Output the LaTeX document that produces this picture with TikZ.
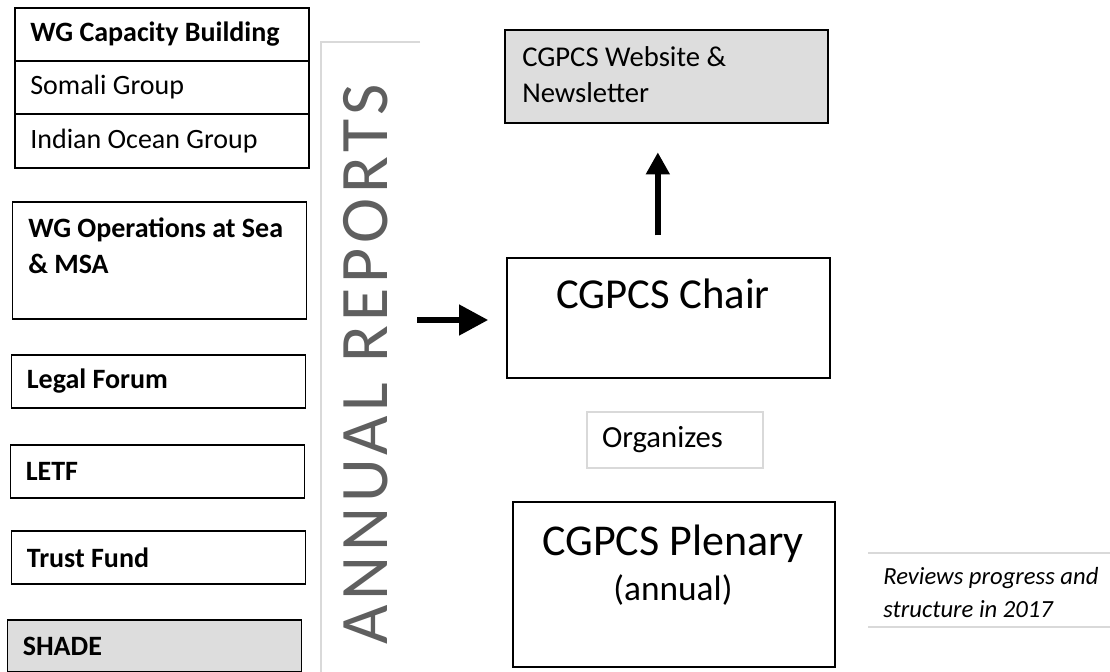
\documentclass[tikz,border=0pt]{standalone}
\usepackage{fontspec}
\setmainfont{Carlito}
\newfontfamily\reportsfont[LetterSpace=7]{Carlito}
\usetikzlibrary{arrows.meta,positioning}
\definecolor{framegray}{RGB}{217,217,217}
\definecolor{reportgray}{RGB}{95,95,95}
\definecolor{shadegray}{RGB}{221,221,221}
\tikzset{
  wgbox/.style={draw, line width=1.2pt, outer sep=0pt, minimum width=220.5pt, minimum height=39.75pt,
    inner xsep=11.5pt, text width=197.5pt, align=flush left, font=\fontsize{21}{26}\selectfont},
  mainbox/.style={draw, line width=1.6pt, outer sep=0pt},
  bigarrow/.style={line width=5pt, -{Triangle[length=22pt,width=22pt]}},
}
\begin{document}
\begin{tikzpicture}[x=0.75pt,y=0.75pt,yscale=-1,xscale=1]
\useasboundingbox (0,0) rectangle (1110,671);
\clip (0,0) rectangle (1110,671);

%Shape: Rectangle (working group table)
\node[wgbox] (capwg) at (162,34.5) {\bfseries WG Capacity Building};
\node[wgbox, below=0pt of capwg] (somali) {Somali Group};
\node[wgbox, below=0pt of somali, minimum height=40.5pt] (indian) {Indian Ocean Group};

%Shape: Rectangle
\node[wgbox, minimum height=87.75pt] (opsbox) at (159.5,260.5) {};
% Text Node
\node[anchor=north west, align=left, inner sep=0pt, font=\fontsize{21}{27}\selectfont\bfseries] (ops) at (28,218) {WG Operations at Sea\\\& MSA};

%Shape: Rectangle
\node[wgbox] (legal) at (158.5,381.5) {\bfseries Legal Forum};
\node[wgbox] (letf) at (157.5,471.5) {\bfseries LETF};
\node[wgbox] (trust) at (158.5,557.5) {\bfseries Trust Fund};
\node[wgbox, fill=shadegray, minimum height=39pt, inner xsep=11pt] (shade) at (154.5,646) {\bfseries SHADE};

%Straight Lines (report frame)
\draw[framegray, line width=1pt] (420,42) -- (321,42) -- (321,680);
% Text Node
\node[rotate=90, inner sep=0pt, text=reportgray, font=\reportsfont\fontsize{51}{61}\selectfont] (reports) at (366,364) {ANNUAL REPORTS};

%Shape: Rectangle
\node[mainbox, line width=1.2pt, fill=shadegray, minimum width=242.25pt, minimum height=69.75pt] (website) at (666.5,76.5) {};
% Text Node
\node[anchor=north west, align=left, inner sep=0pt, font=\fontsize{21.5}{27}\selectfont] (webtext) at (522,46) {CGPCS Website \&\\Newsletter};

%Shape: Rectangle
\node[mainbox, minimum width=242.25pt, minimum height=90pt] (chair) at (668.5,318) {};
% Text Node
\node[anchor=base, font=\fontsize{32}{38}\selectfont] (chairtext) at (663,308) {CGPCS Chair};

%Shape: Rectangle
\node[draw=framegray, line width=1pt, minimum width=132pt, minimum height=42pt, inner xsep=11.25pt,
  text width=109.5pt, align=flush left, font=\fontsize{23}{28}\selectfont] (organizes) at (675,440) {Organizes};

%Shape: Rectangle
\node[mainbox, minimum width=241.5pt, minimum height=123.75pt] (plenary) at (674,584.5) {};
% Text Node
\node[anchor=base, font=\fontsize{33}{40}\selectfont] (plentitle) at (673,555) {CGPCS Plenary};
\node[anchor=base, font=\fontsize{26.5}{32}\selectfont] (plenannual) at (673,600) {(annual)};

%Straight Lines (note frame)
\draw[framegray, line width=1pt] (868,553) -- (1110,553);
\draw[framegray, line width=1pt] (868,627) -- (1110,627);
% Text Node
\node[anchor=north west, align=left, inner sep=0pt, font=\fontsize{18.5}{24.75}\selectfont\itshape] (reviews) at (883,567) {Reviews progress and\\structure in 2017};

%Arrows
\coordinate (arfrom) at (417,320);
\draw[bigarrow, shorten >=14pt] (arfrom) -- (arfrom -| chair.west);
\draw[bigarrow, line width=4.5pt, -{Triangle[length=16.5pt,width=17pt]}, shorten <=17pt, shorten >=22pt]
  ([xshift=-8pt]chair.north) -- ([xshift=-8pt]chair.north |- website.south);

\end{tikzpicture}
\end{document}
